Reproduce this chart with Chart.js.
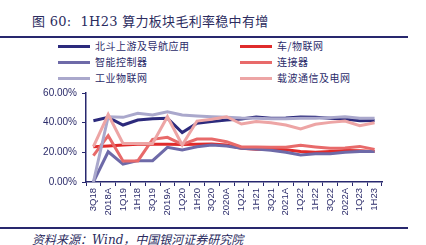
<!DOCTYPE html>
<html lang="zh">
<head>
    <meta charset="UTF-8">
    <title>1H23 算力板块毛利率稳中有增</title>
    <script src="https://cdn.jsdelivr.net/npm/chart.js"></script>
    <style>
        body { margin: 0; width: 426px; height: 245px; background: #fff; position: relative; overflow: hidden; font-family: "Noto Sans CJK SC", sans-serif; }
        .title { position: absolute; left: 32px; top: 11px; font-size: 13px; color: #2b2b5e; font-family: "DejaVu Serif", "Noto Sans CJK SC", serif; white-space: nowrap; letter-spacing: 0.3px; }
        .rule { position: absolute; left: 0; width: 408px; height: 2px; background: #28286e; }
        .legend { position: absolute; left: 0; top: 40px; width: 426px; }
        .legend .item { position: absolute; font-size: 10px; color: #2b2b6a; white-space: nowrap; line-height: 12px; letter-spacing: 0.5px; }
        .legend .swatch { display: inline-block; width: 32px; height: 3px; vertical-align: middle; margin-right: 5px; position: relative; top: -1px; }
        .source { position: absolute; left: 32px; top: 230px; font-size: 12px; font-style: italic; color: #2b2b5e; white-space: nowrap; font-family: "DejaVu Serif", "Noto Sans CJK SC", serif; }
        .chart_div { position: absolute; left: 0; top: 82px; width: 426px; height: 140px; }
    </style>
</head>
<body>
    <div class="title">图 60:&nbsp; 1H23 算力板块毛利率稳中有增</div>
    <div class="rule" style="top:36px"></div>
    <div class="legend" id="legend"></div>
    <div class="chart_div">
        <canvas id="chart1"></canvas>
    </div>
    <div class="rule" style="top:227px"></div>
    <div class="source">资料来源：Wind，中国银河证券研究院</div>

    <script>
        const periods = ['3Q18', '2018A', '1Q19', '1H18', '3Q19', '2019A', '1Q20', '1H20', '3Q20', '2020A',
                         '1Q21', '1H21', '3Q21', '2021A', '1Q22', '1H22', '3Q22', '2022A', '1Q23', '1H23'];

        const beidou    = [41.3, 43.6, 38.4, 41.8, 42.7, 43.0, 33.3, 39.6, 40.7, 41.8, 42.5, 43.8, 43.0, 43.1, 43.8, 43.6, 43.0, 42.5, 41.3, 41.5];
        const iovNet    = [23.8, 24.3, 25.0, 25.5, 25.5, 25.5, 25.3, 25.4, 25.6, 25.0, 22.7, 22.0, 22.3, 21.7, 20.5, 20.0, 20.5, 21.2, 21.0, 20.5];
        const controller= [0.0, 20.4, 12.1, 14.4, 14.4, 23.4, 21.6, 23.8, 25.0, 24.3, 22.7, 22.3, 21.4, 20.0, 18.2, 19.1, 19.1, 20.0, 20.5, 20.5];
        const connector = [17.8, 31.2, 14.2, 14.2, 28.8, 30.1, 25.4, 29.0, 29.0, 27.2, 23.6, 23.6, 23.4, 23.4, 24.7, 23.6, 22.7, 23.0, 24.0, 22.0];
        const industrial= [0.0, 44.0, 43.6, 46.3, 45.2, 47.4, 45.2, 44.5, 44.0, 43.6, 43.1, 42.9, 42.6, 42.6, 43.0, 42.9, 43.4, 44.0, 43.0, 43.0];
        const carrier   = [23.8, 45.5, 26.0, 26.0, 26.0, 44.0, 25.0, 41.1, 42.3, 44.0, 39.1, 40.7, 40.0, 38.4, 35.7, 38.9, 40.2, 41.1, 38.0, 40.0];

        const yTicks = [0, 20, 40, 60];

        const series = [
            { label: '北斗上游及导航应用', data: beidou, color: '#2c2a7c' },
            { label: '车/物联网', data: iovNet, color: '#e02b2b' },
            { label: '智能控制器', data: controller, color: '#6e6aa8' },
            { label: '连接器', data: connector, color: '#e86a6a' },
            { label: '工业物联网', data: industrial, color: '#aaa8cc' },
            { label: '载波通信及电网', data: carrier, color: '#eda5a5' }
        ];

        // legend in two columns, three rows
        const legend = document.getElementById('legend');
        series.forEach((s, i) => {
            const item = document.createElement('div');
            item.className = 'item';
            item.style.left = (i % 2 === 0 ? 58 : 240) + 'px';
            item.style.top = (Math.floor(i / 2) * 16) + 'px';
            item.innerHTML = '<span class="swatch" style="background:' + s.color + '"></span>' + s.label;
            legend.appendChild(item);
        });

        const axisColor = '#28286e';

        new Chart(document.getElementById('chart1'), {
            type: 'line',
            data: {
                labels: periods,
                datasets: series.map((s, i) => ({
                    label: s.label,
                    data: s.data,
                    borderColor: s.color,
                    backgroundColor: s.color,
                    borderWidth: 3,
                    pointRadius: 0,
                    tension: 0,
                    fill: false,
                    order: series.length - 1 - i
                }))
            },
            options: {
                responsive: true,
                maintainAspectRatio: false,
                animation: false,
                layout: { padding: { top: 2, right: 44, bottom: 0, left: 0 } },
                plugins: {
                    legend: { display: false },
                    tooltip: { enabled: false }
                },
                scales: {
                    x: {
                        offset: true,
                        grid: {
                            display: true,
                            drawOnChartArea: false,
                            drawTicks: true,
                            tickLength: 4,
                            offset: true,
                            color: axisColor
                        },
                        border: { color: axisColor, width: 1.5 },
                        ticks: {
                            color: '#2b2b6a',
                            font: { size: 9.5, family: 'Liberation Sans, Arial' },
                            minRotation: 90,
                            maxRotation: 90,
                            autoSkip: false,
                            padding: 2
                        },
                        afterFit: scale => { scale.height = 40; }
                    },
                    y: {
                        min: 0,
                        max: 60,
                        afterBuildTicks: scale => { scale.ticks = yTicks.map(v => ({ value: v })); },
                        grid: {
                            display: true,
                            drawOnChartArea: false,
                            drawTicks: true,
                            tickLength: 4,
                            color: axisColor
                        },
                        border: { color: axisColor, width: 1.5 },
                        ticks: {
                            color: '#2b2b6a',
                            font: { size: 10, family: 'Liberation Sans, Arial' },
                            padding: 5,
                            callback: v => v.toFixed(2) + '%'
                        },
                        afterFit: scale => { scale.width = 86; }
                    }
                }
            }
        });
    </script>
</body>
</html>
